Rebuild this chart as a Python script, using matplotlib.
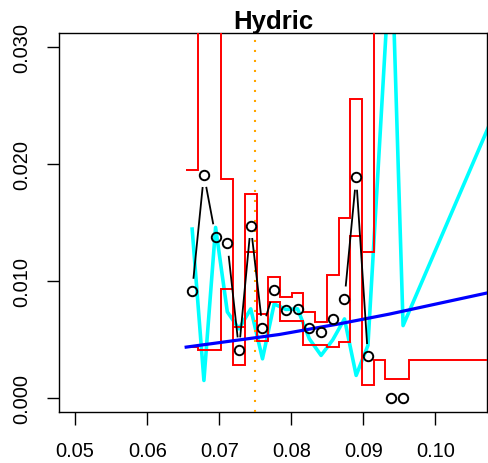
import numpy as np
import matplotlib
matplotlib.use("Agg")
import matplotlib.pyplot as plt
from matplotlib.collections import LineCollection

plt.rcParams['font.family'] = ['Liberation Sans', 'DejaVu Sans']

nan = np.nan

# bin centres along the x axis
x_bins = [0.06624, 0.06787, 0.06949, 0.07112, 0.07274, 0.07437, 0.07600,
          0.07762, 0.07925, 0.08087, 0.08250, 0.08413, 0.08575, 0.08738,
          0.08900, 0.09063, 0.09226, 0.09388, 0.09551, 0.09713, 0.09876,
          0.10039, 0.10201, 0.10364, 0.10526, 0.10689, 0.10852]

# observed rate (circles)
obs = [0.00910, 0.01907, 0.01377, 0.01319, 0.00409, 0.01471, 0.00594,
       0.00921, 0.00750, 0.00754, 0.00595, 0.00560, 0.00672, 0.00844,
       0.01884, 0.00352, nan, 0.0, 0.0,
       nan, nan, nan, nan, nan, nan, nan, nan]

# smoothed estimate (cyan)
smooth = [0.01441, 0.00147, 0.01455, 0.00733, 0.00588, 0.00759, 0.00332,
          0.00801, 0.00754, 0.00759, 0.00503, 0.00361, 0.00494, 0.00673,
          0.00190, 0.00446, nan, 0.0391, 0.00616,
          nan, nan, nan, nan, nan, nan, nan, 0.0248]

# confidence band, step per bin
upper = [0.01946, 0.05, 0.05, 0.01873, 0.00603, 0.01745, 0.00716, 0.01034,
         0.00858, 0.00895, 0.00731, 0.00645, 0.01049, 0.01540, 0.02549,
         0.01247, 0.05, 0.05, 0.05, 0.05, 0.05, 0.05, 0.05, 0.05, 0.05,
         0.05, 0.05]
lower = [0.00432, 0.00409, 0.00409, 0.00929, 0.00275, 0.01247, 0.00488,
         0.00821, 0.00659, 0.00659, 0.00446, 0.00446, 0.00432, 0.00475,
         0.01384, 0.00105, 0.00318, 0.00162, 0.00162, 0.00318, 0.00318,
         0.00318, 0.00318, 0.00318, 0.00318, 0.00318, 0.00318]

# fitted trend (blue)
trend_x = [0.06541, 0.07834, 0.08666, 0.09359, 0.10718]
trend_y = [0.00432, 0.00540, 0.00631, 0.00714, 0.00895]

cutoff = 0.075


def gapped_line(ax, xs, ys, gap, **kw):
    # like R type="b": segments stop short of the points
    pts = ax.transData.transform(np.column_stack([xs, ys]))
    inv = ax.transData.inverted()
    segs = []
    for a, b in zip(pts[:-1], pts[1:]):
        if not (np.isfinite(a).all() and np.isfinite(b).all()):
            continue
        d = b - a
        n = np.hypot(d[0], d[1])
        if n <= 2 * gap:
            continue
        u = d / n
        segs.append(inv.transform(np.array([a + u * gap, b - u * gap])))
    ax.add_collection(LineCollection(segs, **kw))


fig = plt.figure(figsize=(4.88, 4.64), dpi=100)
ax = fig.add_axes([0.1215, 0.1106, 0.8771, 0.8168])
ax.set_xlim(0.0478, 0.1072)
ax.set_ylim(-0.0012, 0.0312)

xb = np.array(x_bins)
step = np.diff(xb)
edges = np.concatenate([[xb[0] - step[0] / 2], xb[:-1] + step / 2,
                        [xb[-1] + step[-1] / 2]])

sm = np.array(smooth)
ok = np.isfinite(sm)
ax.plot(xb[ok], sm[ok], color='cyan', lw=2.6, zorder=2)

ax.stairs(upper, edges, baseline=None, color='red', lw=1.4, zorder=3)
ax.stairs(lower, edges, baseline=None, color='red', lw=1.4, zorder=3)

ax.plot(trend_x, trend_y, color='blue', lw=2.3, zorder=4)

ax.axvline(cutoff, color='orange', lw=1.5, linestyle=(0, (1, 3.8)), zorder=4)

gapped_line(ax, xb, obs, 12.5, colors='black', linewidths=1.3, zorder=5)
ax.plot(xb, obs, 'o', mfc='none', mec='black', ms=6.8, mew=1.4, zorder=6)

ax.set_title('Hydric', fontsize=18.5, fontweight='bold', pad=2)

ax.set_xticks([0.05, 0.06, 0.07, 0.08, 0.09, 0.10])
ax.set_xticklabels(['0.05', '0.06', '0.07', '0.08', '0.09', '0.10'])
ax.set_yticks([0.0, 0.01, 0.02, 0.03])
ax.set_yticklabels(['0.000', '0.010', '0.020', '0.030'],
                   rotation=90, va='center')
ax.tick_params(axis='both', labelsize=14.4, length=9, width=1, direction='out')
ax.tick_params(axis='x', pad=12)
ax.tick_params(axis='y', pad=11)
for s in ax.spines.values():
    s.set_linewidth(1)

fig.savefig('out.png', dpi=100)
